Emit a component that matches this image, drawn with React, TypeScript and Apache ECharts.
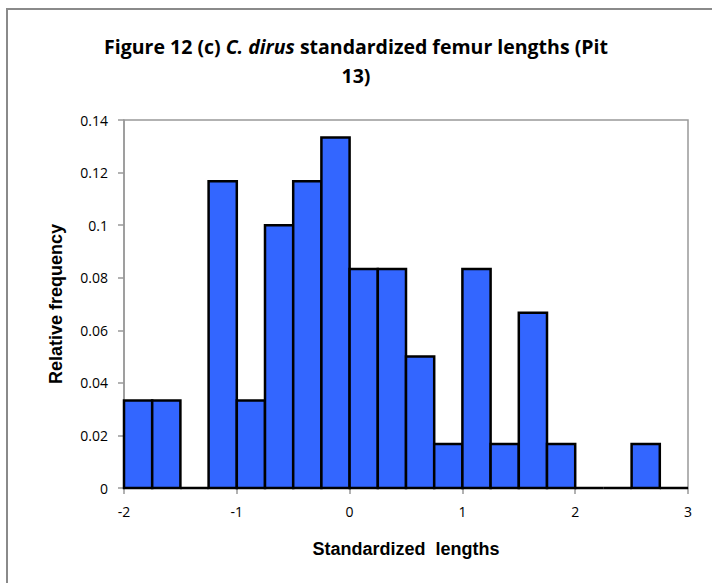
import React, { useEffect, useRef } from "react";
import * as echarts from "echarts";

const binStarts = [-2, -1.75, -1.5, -1.25, -1, -0.75, -0.5, -0.25, 0, 0.25, 0.5, 0.75, 1, 1.25, 1.5, 1.75, 2, 2.25, 2.5, 2.75];
const binWidth = 0.25;
const frequencies = [0.0333, 0.0333, 0, 0.1167, 0.0333, 0.1, 0.1167, 0.1333, 0.0833, 0.0833, 0.05, 0.0167, 0.0833, 0.0167, 0.0667, 0.0167, 0, 0, 0.0167, 0];

const titleLine1Parts = ["Figure 12 (c) ", "C. dirus", " standardized femur lengths (Pit"];
const titleLine2 = "13)";
const xAxisTitle = "Standardized  lengths";
const yAxisTitle = "Relative frequency";

export default function App() {
  const ref = useRef<HTMLDivElement>(null);
  useEffect(() => {
    if (!ref.current) return;
    const chart = echarts.init(ref.current, null, { renderer: "svg" });
    const data = binStarts.map((s, i) => [s, s + binWidth, frequencies[i]]);
    const titleFont = "'Open Sans', 'Noto Sans', sans-serif";
    const labelFont = "'Open Sans', 'Noto Sans', sans-serif";
    chart.setOption({
      animation: false,
      backgroundColor: "#ffffff",
      title: {
        text: `{n|${titleLine1Parts[0]}}{i|${titleLine1Parts[1]}}{n|${titleLine1Parts[2]}}\n{n|${titleLine2}}`,
        left: "center",
        top: 27,
        textStyle: {
          rich: {
            n: { fontFamily: titleFont, fontWeight: "bold", fontSize: 19.5, color: "#000", lineHeight: 29 },
            i: { fontFamily: titleFont, fontWeight: "bold", fontStyle: "italic", fontSize: 19.5, color: "#000", lineHeight: 29 },
          },
        },
      },
      graphic: [
        {
          type: "rect",
          shape: { x: 7, y: 9, width: 720, height: 600 },
          style: { fill: "none", stroke: "#8a8a8a", lineWidth: 2 },
          silent: true,
        },
      ],
      grid: { left: 124, right: 24, top: 120, bottom: 95, show: true, borderColor: "#999", borderWidth: 1.5, backgroundColor: "#fff" },
      xAxis: {
        type: "value",
        min: -2,
        max: 3,
        interval: 1,
        name: xAxisTitle,
        nameLocation: "middle",
        nameGap: 52,
        nameTextStyle: { fontFamily: "'Liberation Sans', Arial, sans-serif", fontWeight: "bold", fontSize: 18, color: "#000" },
        axisLine: { show: true, onZero: false, lineStyle: { color: "#999", width: 1.5 } },
        axisTick: { show: true, inside: false, length: 6, lineStyle: { color: "#999", width: 1.5 } },
        axisLabel: { fontFamily: labelFont, fontSize: 14, color: "#000", margin: 16 },
        splitLine: { show: false },
      },
      yAxis: {
        type: "value",
        min: 0,
        max: 0.14,
        interval: 0.02,
        name: yAxisTitle,
        nameLocation: "middle",
        nameGap: 59,
        nameTextStyle: { fontFamily: "'Liberation Sans', Arial, sans-serif", fontWeight: "bold", fontSize: 18, color: "#000" },
        axisLine: { show: true, onZero: false, lineStyle: { color: "#999", width: 1.5 } },
        axisTick: { show: true, inside: false, length: 6, lineStyle: { color: "#999", width: 1.5 } },
        axisLabel: { fontFamily: labelFont, fontSize: 14, color: "#000", margin: 16, formatter: (v: number) => String(parseFloat(v.toFixed(2))) },
        splitLine: { show: false },
      },
      series: [
        {
          type: "custom",
          data,
          encode: { x: [0, 1], y: 2 },
          renderItem: (params: any, api: any) => {
            const p0 = api.coord([api.value(0), api.value(2)]);
            const p1 = api.coord([api.value(1), 0]);
            return {
              type: "rect",
              shape: { x: p0[0], y: p0[1], width: p1[0] - p0[0], height: p1[1] - p0[1] },
              style: { fill: "#3366ff", stroke: "#000", lineWidth: 2.5 },
            };
          },
        },
      ],
    });
    return () => chart.dispose();
  }, []);
  return <div ref={ref} style={{ position: "fixed", left: 0, top: 0, width: 712, height: 583 }} />;
}
